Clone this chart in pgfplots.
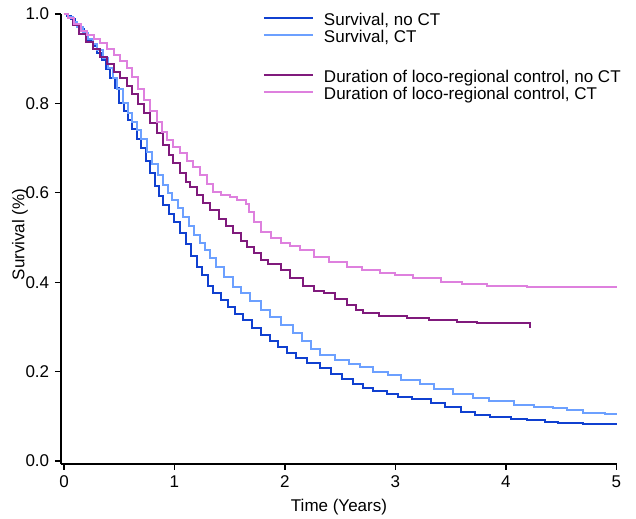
\documentclass[border=0pt]{standalone}
\usepackage{fontspec}
\setmainfont{Liberation Sans}
\usepackage{pgfplots}
\pgfplotsset{compat=1.18}
\definecolor{cDB}{RGB}{16,64,208}
\definecolor{cLB}{RGB}{108,160,255}
\definecolor{cDP}{RGB}{128,26,124}
\definecolor{cLP}{RGB}{222,128,222}
\begin{document}
\fontsize{17bp}{17.5bp}\selectfont
\begin{tikzpicture}
\path[use as bounding box] (-61bp,-55bp) rectangle (575bp,464bp);
\begin{axis}[
  at={(0,0)}, anchor=south west,
  width=556bp, height=450bp, scale only axis,
  xmin=-0.027, xmax=5.005, ymin=-0.0067, ymax=1.0,
  axis x line*=bottom, axis y line*=left,
  x axis line style={-}, y axis line style={-},
  axis line style={line width=1.5bp, black},
  tick pos=left, tick align=outside,
  major tick length=6bp,
  major tick style={line width=1.2bp, black},
  xtick={0,1,2,3,4,5}, ytick={0,0.2,0.4,0.6,0.8,1.0},
  xticklabel style={/pgf/number format/assume math mode=true},
  yticklabel style={/pgf/number format/.cd, fixed, fixed zerofill, precision=1, assume math mode=true},
  clip=false,
  xlabel={Time (Years)},
  ylabel={Survival (\%)},
  ylabel style={at={(axis description cs:0,0.51)}, anchor=center, yshift=41bp},
  legend style={at={(axis description cs:0.3633,1)}, anchor=north west, yshift=4.75bp,
    draw=none, fill=none, inner sep=0pt, outer sep=0pt, row sep=0pt,
    nodes={inner sep=0pt, text height=16bp, text depth=1.5bp},
    /tikz/every odd column/.append style={column sep=10bp}},
  legend cell align=left,
  legend image code/.code={\draw[#1] (0bp,0bp) -- (49bp,0bp);},
]
\addplot[cDB, line width=2bp, const plot] coordinates {
(0,1.000) (0.03,0.995) (0.06,0.988) (0.10,0.978) (0.14,0.966) (0.18,0.955) (0.22,0.942)
(0.26,0.928) (0.30,0.912) (0.34,0.896) (0.38,0.878) (0.42,0.857) (0.46,0.834) (0.50,0.800)
(0.54,0.782) (0.58,0.762) (0.62,0.742) (0.66,0.720) (0.70,0.700) (0.74,0.672) (0.78,0.645)
(0.82,0.615) (0.86,0.592) (0.90,0.572) (0.95,0.553) (1.00,0.535) (1.05,0.510) (1.10,0.485)
(1.15,0.458) (1.20,0.435) (1.25,0.415) (1.30,0.392) (1.35,0.376) (1.42,0.360) (1.48,0.344)
(1.55,0.328) (1.62,0.315) (1.70,0.298) (1.78,0.282) (1.86,0.268) (1.94,0.254) (2.02,0.242)
(2.10,0.230) (2.20,0.219) (2.32,0.208) (2.42,0.195) (2.52,0.184) (2.62,0.172) (2.71,0.163)
(2.80,0.157) (2.92,0.150) (3.02,0.143) (3.15,0.138) (3.32,0.130) (3.45,0.120) (3.59,0.110)
(3.72,0.104) (3.86,0.098) (4.05,0.094) (4.19,0.092) (4.35,0.088) (4.47,0.085) (4.70,0.082)
(5.00,0.080)
};
\addlegendentry{Survival, no CT}
\addplot[cLB, line width=2bp, const plot] coordinates {
(0,1.000) (0.04,0.993) (0.08,0.982) (0.12,0.970) (0.17,0.957) (0.22,0.944) (0.26,0.932)
(0.30,0.920) (0.35,0.902) (0.40,0.880) (0.44,0.857) (0.48,0.832) (0.53,0.800) (0.58,0.778)
(0.62,0.758) (0.66,0.740) (0.70,0.720) (0.75,0.692) (0.80,0.665) (0.85,0.640) (0.90,0.618)
(0.94,0.600) (0.98,0.585) (1.03,0.565) (1.08,0.545) (1.13,0.525) (1.18,0.505) (1.23,0.488)
(1.28,0.472) (1.32,0.455) (1.38,0.435) (1.45,0.412) (1.53,0.390) (1.60,0.375) (1.68,0.358)
(1.78,0.338) (1.86,0.322) (1.96,0.305) (2.07,0.286) (2.15,0.268) (2.24,0.250) (2.32,0.237)
(2.45,0.226) (2.58,0.216) (2.68,0.210) (2.80,0.200) (2.93,0.192) (3.05,0.182) (3.22,0.172)
(3.35,0.162) (3.52,0.150) (3.70,0.140) (3.85,0.135) (4.07,0.125) (4.25,0.121) (4.43,0.118)
(4.55,0.113) (4.70,0.107) (4.90,0.105) (5.00,0.102)
};
\addlegendentry{Survival, CT}
\addlegendimage{empty legend}
\addlegendentry[text height=20.5bp, text depth=1.5bp]{}
\addplot[cDP, line width=2bp, const plot] coordinates {
(0,1.000) (0.04,0.990) (0.08,0.975) (0.14,0.955) (0.20,0.938) (0.26,0.922) (0.33,0.904)
(0.39,0.888) (0.45,0.870) (0.51,0.856) (0.57,0.840) (0.62,0.820) (0.67,0.798) (0.72,0.778)
(0.78,0.756) (0.84,0.733) (0.90,0.706) (0.95,0.685) (0.99,0.667) (1.05,0.645) (1.10,0.625)
(1.14,0.613) (1.20,0.595) (1.26,0.578) (1.32,0.562) (1.40,0.542) (1.47,0.525) (1.53,0.510)
(1.60,0.492) (1.66,0.478) (1.72,0.465) (1.78,0.450) (1.85,0.440) (1.96,0.427) (2.05,0.410)
(2.16,0.392) (2.26,0.380) (2.35,0.375) (2.45,0.362) (2.56,0.350) (2.64,0.338) (2.71,0.330)
(2.85,0.325) (3.10,0.320) (3.30,0.316) (3.56,0.311) (3.74,0.308) (4.22,0.304) (4.22,0.297)
};
\addlegendentry{Duration of loco-regional control, no CT}
\addplot[cLP, line width=2bp, const plot] coordinates {
(0,1.000) (0.04,0.992) (0.09,0.978) (0.15,0.962) (0.21,0.952) (0.27,0.944) (0.33,0.935)
(0.39,0.922) (0.45,0.908) (0.51,0.895) (0.57,0.880) (0.62,0.858) (0.67,0.832) (0.72,0.808)
(0.78,0.784) (0.84,0.758) (0.89,0.735) (0.93,0.718) (0.99,0.702) (1.05,0.688) (1.11,0.672)
(1.17,0.658) (1.23,0.640) (1.29,0.620) (1.35,0.602) (1.42,0.595) (1.50,0.590) (1.57,0.584)
(1.65,0.575) (1.67,0.557) (1.72,0.535) (1.78,0.512) (1.87,0.500) (1.96,0.488) (2.05,0.480)
(2.14,0.472) (2.26,0.457) (2.40,0.445) (2.56,0.434) (2.70,0.427) (2.86,0.420) (3.00,0.415)
(3.16,0.409) (3.41,0.401) (3.60,0.396) (3.83,0.392) (4.19,0.389) (5.00,0.387)
};
\addlegendentry{Duration of loco-regional control, CT}
\end{axis}
\end{tikzpicture}
\end{document}
